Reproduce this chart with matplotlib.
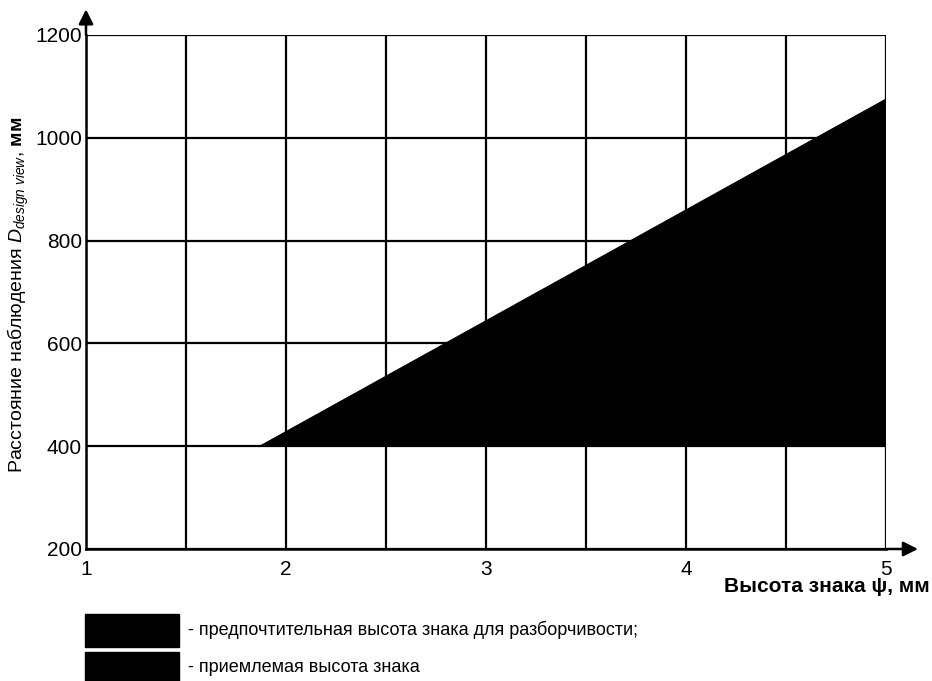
import matplotlib.pyplot as plt
from matplotlib.patches import Rectangle

plt.rcParams['font.family'] = ['Liberation Sans', 'DejaVu Sans']
plt.rcParams['mathtext.fontset'] = 'custom'
plt.rcParams['mathtext.rm'] = 'Liberation Sans'
plt.rcParams['mathtext.it'] = 'Liberation Sans:italic'
plt.rcParams['mathtext.bf'] = 'Liberation Sans:bold'

# data
zone_x = [1.87, 5.0, 5.0]
zone_y = [400, 1075, 400]
x_ticks = [1, 2, 3, 4, 5]
x_minor = [1.5, 2.5, 3.5, 4.5]
y_ticks = [200, 400, 600, 800, 1000, 1200]
legend_labels = ['- предпочтительная высота знака для разборчивости;',
                 '- приемлемая высота знака']

fig = plt.figure(figsize=(9.32, 6.81), dpi=100)
ax = fig.add_axes([86/932, 132/681, 800/932, 514/681])

ax.fill(zone_x, zone_y, color='black', zorder=3)

ax.set_xlim(1, 5)
ax.set_ylim(200, 1200)
ax.set_xticks(x_ticks)
ax.set_xticks(x_minor, minor=True)
ax.set_yticks(y_ticks)
ax.grid(which='both', color='black', lw=1.6)
ax.set_axisbelow(True)
ax.tick_params(which='both', length=0, labelsize=15)
ax.tick_params(axis='x', pad=8)
ax.tick_params(axis='y', pad=3)

for s in ['top', 'right']:
    ax.spines[s].set_visible(False)
for s in ['left', 'bottom']:
    ax.spines[s].set_linewidth(1.8)

# arrows on the axes
ax.annotate('', xy=(1.04, 0), xytext=(1.0, 0), xycoords='axes fraction',
            arrowprops=dict(arrowstyle='-|>', color='black', lw=1.8,
                            mutation_scale=22, shrinkA=0, shrinkB=0))
ax.annotate('', xy=(0, 1.05), xytext=(0, 1.0), xycoords='axes fraction',
            arrowprops=dict(arrowstyle='-|>', color='black', lw=1.8,
                            mutation_scale=22, shrinkA=0, shrinkB=0))

fig.text(930/932, 1 - 587/681, 'Высота знака ψ, мм', ha='right', va='center',
         fontsize=15, fontweight='bold')
fig.text(18/932, 1 - 295/681,
         r'Расстояние наблюдения $D_{design\ view}$, $\mathbf{мм}$',
         rotation=90, ha='center', va='center', fontsize=14)

# legend boxes
for i, lab in enumerate(legend_labels):
    y0 = 614 + i * 38
    fig.patches.append(Rectangle((85/932, 1 - (y0 + 33)/681), 94/932, 33/681,
                                 transform=fig.transFigure, color='black'))
    fig.text(188/932, 1 - (y0 + 16)/681, lab, ha='left', va='center', fontsize=13)

fig.savefig('out.png', dpi=100)
